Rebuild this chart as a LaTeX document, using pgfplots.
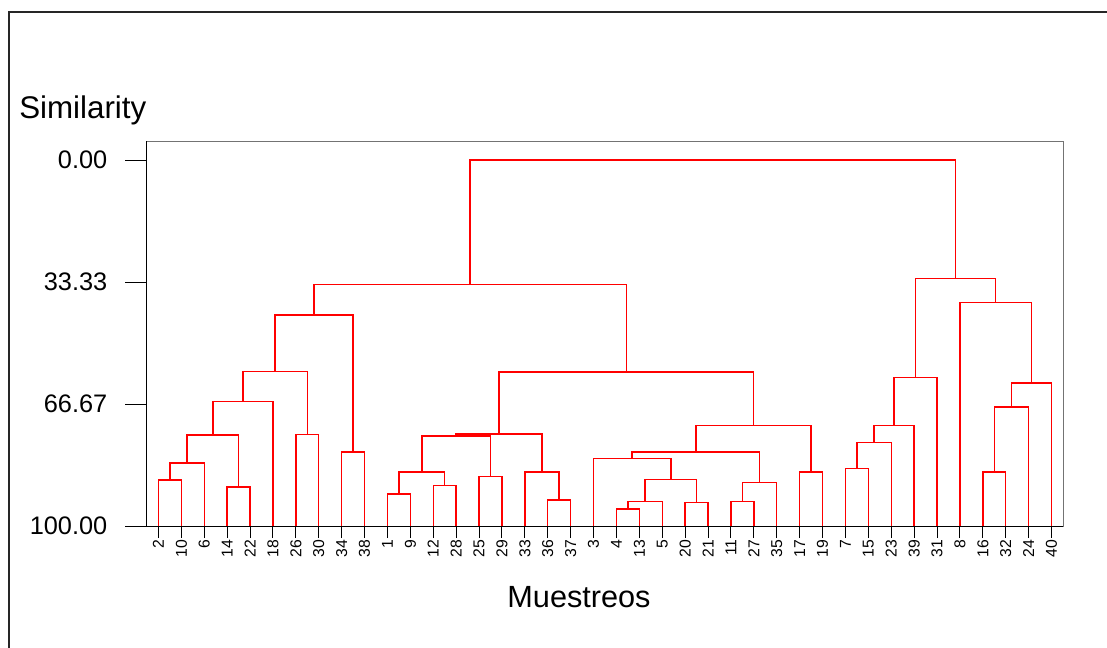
\documentclass[border=0pt]{standalone}
\usepackage{fontspec}
\setmainfont{Liberation Sans}
\usepackage{pgfplots}
\pgfplotsset{compat=1.18}
\usepackage{pgfplotstable}

% dendrogram links: each merge drawn as a U (left child, up, across, down to right child)
\pgfplotstableread{
x y
0 100
0 87.4
1 87.4
1 100
nan nan
0.5 87.4
0.5 82.8
2 82.8
2 100
nan nan
3 100
3 89.3
4 89.3
4 100
nan nan
1.25 82.8
1.25 75.1
3.5 75.1
3.5 89.3
nan nan
2.375 75.1
2.375 66.0
5 66.0
5 100
nan nan
6 100
6 75.0
7 75.0
7 100
nan nan
3.6875 66.0
3.6875 57.8
6.5 57.8
6.5 75.0
nan nan
8 100
8 79.8
9 79.8
9 100
nan nan
5.09375 57.8
5.09375 42.3
8.5 42.3
8.5 79.8
nan nan
10 100
10 91.2
11 91.2
11 100
nan nan
12 100
12 88.9
13 88.9
13 100
nan nan
10.5 91.2
10.5 85.2
12.5 85.2
12.5 88.9
nan nan
14 100
14 86.4
15 86.4
15 100
nan nan
11.5 85.2
11.5 75.4
14.5 75.4
14.5 86.4
nan nan
17 100
17 92.9
18 92.9
18 100
nan nan
16 100
16 85.2
17.5 85.2
17.5 92.9
nan nan
13 75.4
13 74.9
16.75 74.9
16.75 85.2
nan nan
20 100
20 95.3
21 95.3
21 100
nan nan
20.5 95.3
20.5 93.3
22 93.3
22 100
nan nan
23 100
23 93.6
24 93.6
24 100
nan nan
21.25 93.3
21.25 87.3
23.5 87.3
23.5 93.6
nan nan
19 100
19 81.5
22.375 81.5
22.375 87.3
nan nan
25 100
25 93.3
26 93.3
26 100
nan nan
25.5 93.3
25.5 88.1
27 88.1
27 100
nan nan
20.6875 81.5
20.6875 79.8
26.25 79.8
26.25 88.1
nan nan
28 100
28 85.2
29 85.2
29 100
nan nan
23.46875 79.8
23.46875 72.5
28.5 72.5
28.5 85.2
nan nan
14.875 74.9
14.875 57.9
25.984375 57.9
25.984375 72.5
nan nan
6.796875 42.3
6.796875 34.0
20.4296875 34.0
20.4296875 57.9
nan nan
30 100
30 84.3
31 84.3
31 100
nan nan
30.5 84.3
30.5 77.2
32 77.2
32 100
nan nan
31.25 77.2
31.25 72.6
33 72.6
33 100
nan nan
32.125 72.6
32.125 59.4
34 59.4
34 100
nan nan
36 100
36 85.2
37 85.2
37 100
nan nan
36.5 85.2
36.5 67.5
38 67.5
38 100
nan nan
37.25 67.5
37.25 60.9
39 60.9
39 100
nan nan
35 100
35 39.0
38.125 39.0
38.125 60.9
nan nan
33.0625 59.4
33.0625 32.3
36.5625 32.3
36.5625 39.0
nan nan
13.61328125 34.0
13.61328125 0
34.8125 0
34.8125 32.3
}\dendro

\begin{document}
\begin{tikzpicture}
\useasboundingbox (-110.25pt,-90.75pt) rectangle (720pt,394.5pt);
\draw[line width=0.8pt, black!85] (-103.5pt,-92pt) -- (-103.5pt,385.5pt) -- (722pt,385.5pt);
\begin{axis}[
  at={(0pt,0pt)}, anchor=south west,
  width=687pt, height=288.75pt, scale only axis,
  xmin=-0.5, xmax=39.5, ymin=-5.2, ymax=100, y dir=reverse,
  clip=false,
  axis line style={black!55, line width=0.75pt},
  tick pos=left, tick align=outside,
  major tick length=9pt,
  tick style={black, line width=0.75pt},
  ytick={0,33.33,66.67,100},
  yticklabels={0.00,33.33,66.67,100.00},
  xtick={0,...,39},
  xticklabels={2,10,6,14,22,18,26,30,34,38,1,9,12,28,25,29,33,36,37,3,4,13,5,20,21,11,27,35,17,19,7,15,23,39,31,8,16,32,24,40},
  x tick label style={rotate=90, anchor=east, inner sep=1pt, font=\fontsize{11.8}{13}\selectfont},
  y tick label style={font=\fontsize{19}{22}\selectfont, xshift=-17.25pt},
  /pgf/number format/assume math mode=true,
]
\addplot[red, line width=1.1pt, unbounded coords=jump] table {\dendro};
\draw[black, line width=0.75pt] (axis description cs:0,1) -- (axis description cs:0,0) -- (axis description cs:1,0);
% longer left ticks on the similarity axis
\draw[black, line width=0.75pt] (axis cs:-0.5,0) -- ++(-16.5pt,0pt);
\draw[black, line width=0.75pt] (axis cs:-0.5,33.33) -- ++(-16.5pt,0pt);
\draw[black, line width=0.75pt] (axis cs:-0.5,66.67) -- ++(-16.5pt,0pt);
\draw[black, line width=0.75pt] (axis cs:-0.5,100) -- ++(-16.5pt,0pt);
\end{axis}
\node[anchor=base west, inner sep=0pt, font=\fontsize{23.5}{26}\selectfont] at (-96pt,305.25pt) {Similarity};
\node[anchor=base, inner sep=0pt, font=\fontsize{23}{26}\selectfont] at (324pt,-60.75pt) {Muestreos};
\end{tikzpicture}
\end{document}
